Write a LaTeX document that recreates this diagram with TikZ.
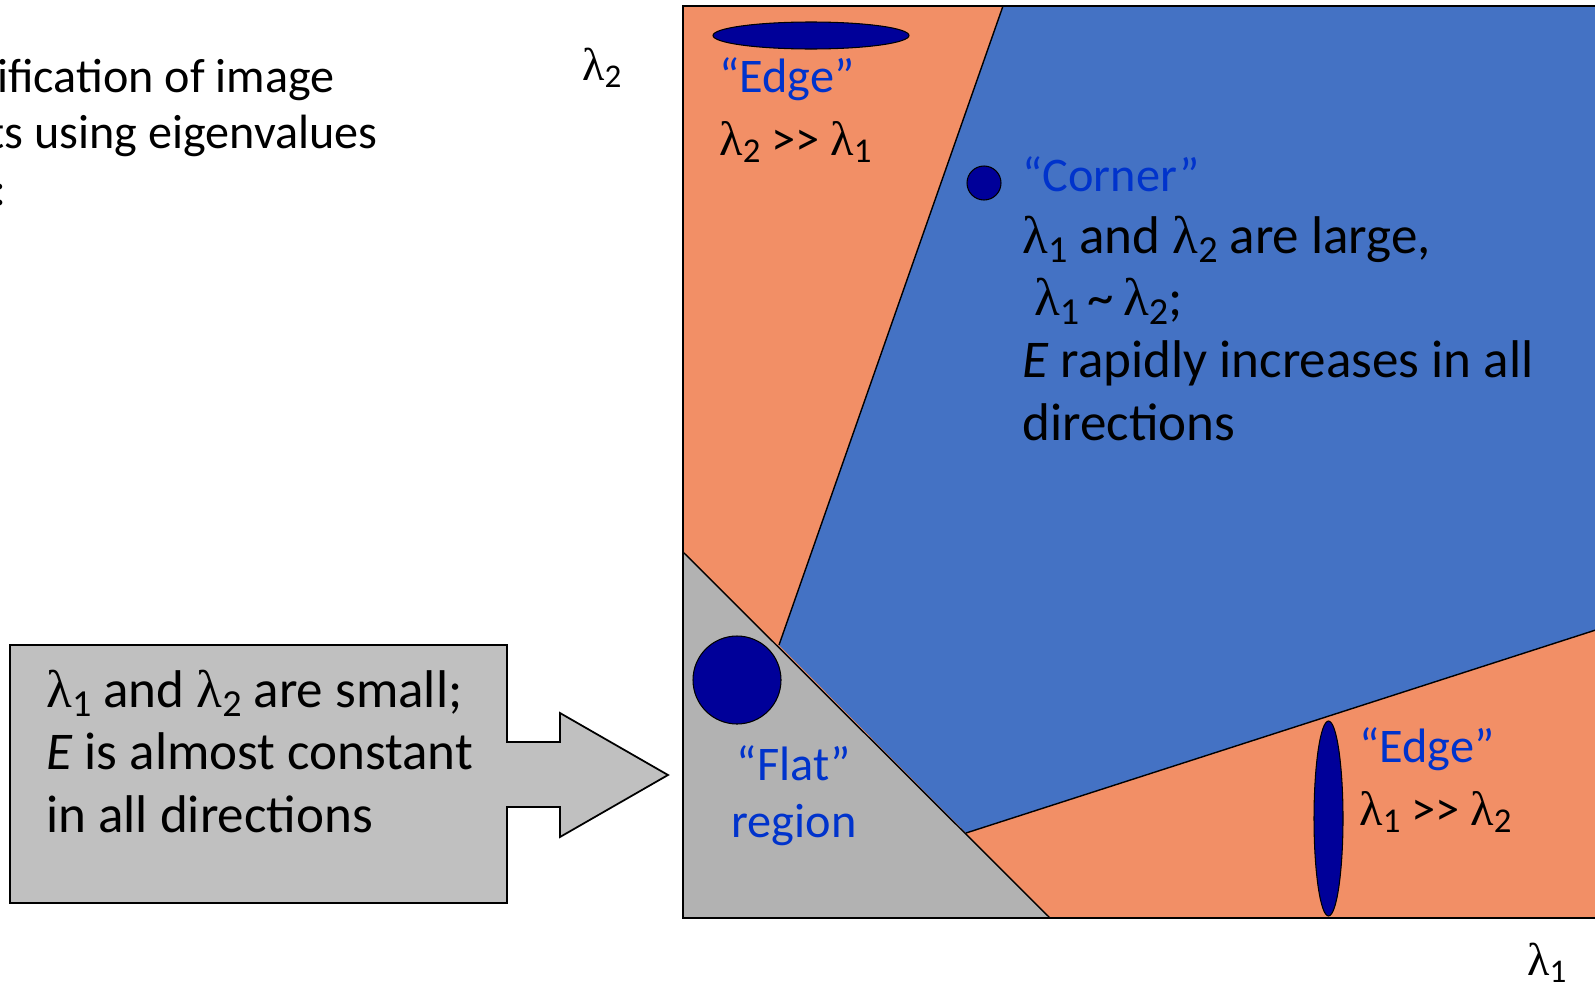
\documentclass[tikz,border=0pt]{standalone}
\usepackage{fontspec}
\usepackage{graphicx}
\setmainfont{Carlito}
\newfontfamily\lamfont{Liberation Serif}
\usetikzlibrary{positioning}
\definecolor{edgeorange}{RGB}{242,143,102}
\definecolor{cornerblue}{RGB}{68,114,196}
\definecolor{flatgray}{RGB}{178,178,178}
\definecolor{boxgray}{RGB}{192,192,192}
\definecolor{blobblue}{RGB}{0,0,153}
\definecolor{labelblue}{RGB}{0,51,204}
\newcommand{\lam}[1]{{\lamfont λ}\raisebox{-0.16em}{\scalebox{0.72}{#1}}}
\newcommand{\muchgt}{>\kern0pt>}

\begin{document}
\begin{tikzpicture}[x=0.02cm,y=-0.02cm,
    txt/.style={font=\fontsize{30.2}{35.3}\selectfont,inner sep=0pt,align=left},
    lbl/.style={font=\fontsize{27.5}{35.3}\selectfont,inner sep=0pt,align=left},
    title/.style={font=\fontsize{27.4}{31.9}\selectfont,inner sep=0pt,align=left},
    blob/.style={draw=black,fill=blobblue,line width=0.6pt},
    border/.style={draw=black,line width=0.8pt}]
  \useasboundingbox (0,0) rectangle (1595,984);

  % regions of the (lambda1, lambda2) plane
  \fill[edgeorange] (683,6) rectangle (1605,918);
  \fill[cornerblue] (1003,6) -- (1605,6) -- (1605,627) -- (966,833) -- (779,645) -- cycle;
  \fill[flatgray] (683,552) -- (1050,918) -- (683,918) -- cycle;
  \draw[border] (1003,6) -- (779,645);
  \draw[border] (966,833) -- (1605,627);
  \draw[border] (683,552) -- (1050,918);
  \draw[border,line width=1pt] (1605,6) -- (683,6) -- (683,918) -- (1605,918);

  % example windows
  \filldraw[blob] (811,35.5) ellipse [x radius=98,y radius=13.5];
  \filldraw[blob] (984,183) circle [radius=17];
  \filldraw[blob] (737,680) circle [radius=44];
  \filldraw[blob] (1328.5,818.5) ellipse [x radius=14.5,y radius=97.5];

  % axis labels
  \node[lbl,font=\fontsize{26.2}{30}\selectfont,anchor=base west] (lamtwo) at (582,80) {\lam{2}};
  \node[lbl,font=\fontsize{26.2}{30}\selectfont,anchor=base west] (lamone) at (1527,975) {\lam{1}};

  % region labels (base = last line)
  \node[lbl,anchor=base west] (edgetop) at (719,155)
    {\textcolor{labelblue}{“Edge”}\\\lam{2} \muchgt{} \lam{1}};
  \node[txt,anchor=base west] (corner) at (1022,440)
    {{\fontsize{27.5}{35.3}\selectfont\textcolor{labelblue}{“Corner”}}\\
     \lam{1} and \lam{2} are large,\\
     \hspace*{0.22em}\lam{1}\,\textasciitilde\,\lam{2};\\
     \textit{E} rapidly increases in all\\
     directions};
  \node[lbl,font=\fontsize{27.5}{32.4}\selectfont,anchor=base,align=center,text=labelblue] (flat) at (794,837)
    {“Flat”\\region};
  \node[lbl,anchor=base west] (edgeright) at (1359,825)
    {\textcolor{labelblue}{“Edge”}\\\lam{1} \muchgt{} \lam{2}};

  % heading, cut at the left
  \node[title,anchor=base west] (heading) at (-3,205)
    {ification of image\\\hspace*{-5pt}ts using eigenvalues\\\hspace*{-2pt}:};

  % callout pointing at the flat region
  \filldraw[fill=boxgray,draw=black,line width=1pt]
    (10,645) -- (507,645) -- (507,742) -- (560,742) -- (560,713) -- (668,775)
    -- (560,837) -- (560,807) -- (507,807) -- (507,903) -- (10,903) -- cycle;
  \node[txt,anchor=base west] (callout) at (46,832)
    {\lam{1} and \lam{2} are small;\\
     \textit{E} is almost constant\\
     in all directions};
\end{tikzpicture}
\end{document}
